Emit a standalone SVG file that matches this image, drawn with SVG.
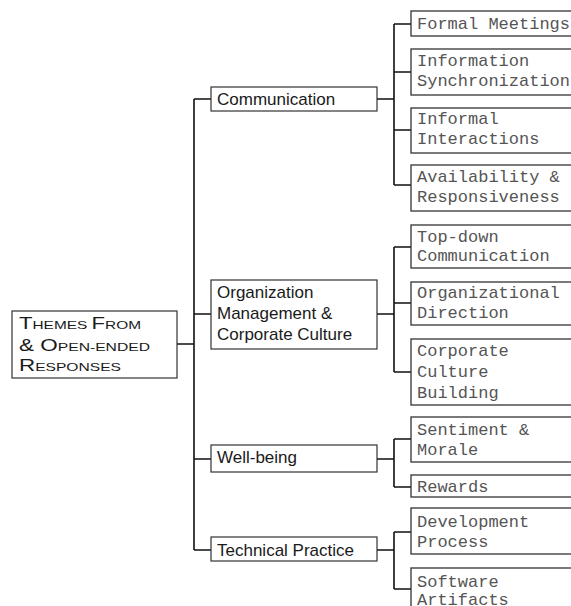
<svg xmlns="http://www.w3.org/2000/svg" width="571" height="606" viewBox="0 0 571 606">
<style>
.box{fill:#fff;stroke:#333;stroke-width:1.2}
.leaf{fill:#fff;stroke:#333;stroke-width:1.3}
.cat{font-family:"Liberation Sans",Arial,sans-serif;font-size:17px;fill:#1a1a1a}
.root{font-family:"Liberation Sans",Arial,sans-serif;font-size:16.5px;fill:#1a1a1a}
.sc{font-size:11.5px}
.mono{font-family:"Liberation Mono","Courier New",monospace;font-size:17px;fill:#555}
.conn{fill:none;stroke:#111;stroke-width:1.6}
</style>
<rect width="571" height="606" fill="#fff"/>
<g id="connectors">
<path class="conn" d="M177,344H194M194,99V550M194,99H211M194,314H211M194,459H211M194,550H211"/>
<path class="conn" d="M377,99H394M394,24V185M394,24H411M394,72H411M394,130H411M394,185H411"/>
<path class="conn" d="M377,314H394M394,247V372M394,247H411M394,303H411M394,372H411"/>
<path class="conn" d="M377,459H394M394,439V487M394,439H411M394,487H411"/>
<path class="conn" d="M377,550H394M394,532V589M394,532H411M394,589H411"/>
</g>
<g id="root">
<rect class="box" x="12" y="311" width="165" height="67"/>
<text class="root" x="19" y="328.5" textLength="122" lengthAdjust="spacingAndGlyphs">T<tspan class="sc">HEMES </tspan>F<tspan class="sc">ROM</tspan></text>
<text class="root" x="19" y="350.5" textLength="131" lengthAdjust="spacingAndGlyphs">&amp; O<tspan class="sc">PEN-ENDED</tspan></text>
<text class="root" x="19" y="371" textLength="102" lengthAdjust="spacingAndGlyphs">R<tspan class="sc">ESPONSES</tspan></text>
</g>
<g id="communication">
<rect class="box" x="211" y="87" width="166" height="24"/>
<text class="cat" x="217" y="105">Communication</text>
</g>
<g id="organization">
<rect class="box" x="211" y="280" width="166" height="69"/>
<text class="cat" x="217" y="298">Organization</text>
<text class="cat" x="217" y="319">Management &amp;</text>
<text class="cat" x="217" y="339.5">Corporate Culture</text>
</g>
<g id="wellbeing">
<rect class="box" x="211" y="445" width="166" height="27"/>
<text class="cat" x="217" y="463">Well-being</text>
</g>
<g id="technical">
<rect class="box" x="211" y="537" width="166" height="24"/>
<text class="cat" x="217" y="556">Technical Practice</text>
</g>
<g id="formal-meetings">
<rect class="leaf" x="411" y="11" width="170" height="25"/>
<text class="mono" x="417" y="29">Formal Meetings</text>
</g>
<g id="information-sync">
<rect class="leaf" x="411" y="49" width="170" height="46"/>
<text class="mono" x="417" y="66">Information</text>
<text class="mono" x="417" y="86">Synchronization</text>
</g>
<g id="informal-interactions">
<rect class="leaf" x="411" y="108" width="170" height="45"/>
<text class="mono" x="417" y="123.5">Informal</text>
<text class="mono" x="417" y="144">Interactions</text>
</g>
<g id="availability">
<rect class="leaf" x="411" y="165" width="170" height="46"/>
<text class="mono" x="417" y="181.5">Availability &amp;</text>
<text class="mono" x="417" y="201.5">Responsiveness</text>
</g>
<g id="top-down">
<rect class="leaf" x="411" y="225" width="170" height="43"/>
<text class="mono" x="417" y="241.5">Top-down</text>
<text class="mono" x="417" y="261">Communication</text>
</g>
<g id="org-direction">
<rect class="leaf" x="411" y="282" width="170" height="43"/>
<text class="mono" x="417" y="298">Organizational</text>
<text class="mono" x="417" y="318">Direction</text>
</g>
<g id="corporate-culture">
<rect class="leaf" x="411" y="339" width="170" height="66"/>
<text class="mono" x="417" y="355.5">Corporate</text>
<text class="mono" x="417" y="376.5">Culture</text>
<text class="mono" x="417" y="397.5">Building</text>
</g>
<g id="sentiment">
<rect class="leaf" x="411" y="417" width="170" height="45"/>
<text class="mono" x="417" y="435">Sentiment &amp;</text>
<text class="mono" x="417" y="455">Morale</text>
</g>
<g id="rewards">
<rect class="leaf" x="411" y="475" width="170" height="22"/>
<text class="mono" x="417" y="492">Rewards</text>
</g>
<g id="dev-process">
<rect class="leaf" x="411" y="508" width="170" height="46"/>
<text class="mono" x="417" y="527">Development</text>
<text class="mono" x="417" y="547">Process</text>
</g>
<g id="software-artifacts">
<rect class="leaf" x="411" y="568" width="170" height="50"/>
<text class="mono" x="417" y="587">Software</text>
<text class="mono" x="417" y="605">Artifacts</text>
</g>
</svg>
